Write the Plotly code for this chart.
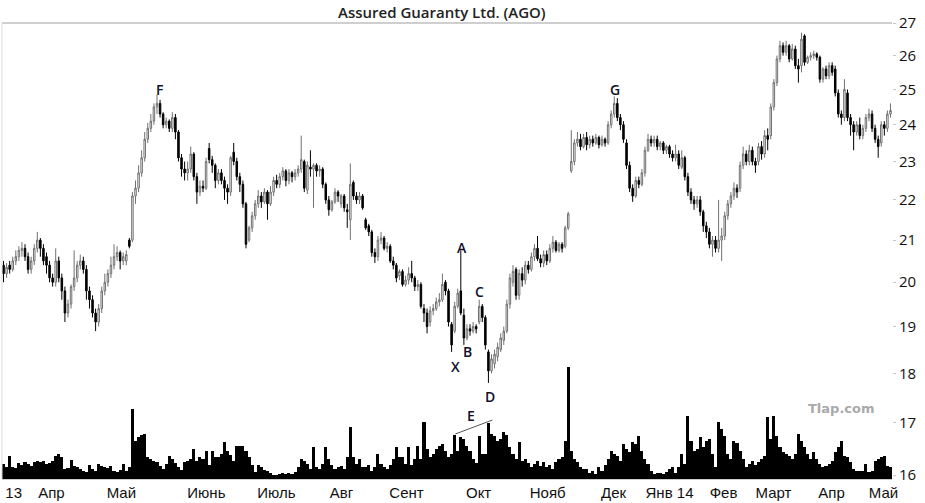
import math
import plotly.graph_objects as go

opens = [
 20.4, 20.2, 20.4, 20.3, 20.5, 20.6, 20.75, 20.8, 20.6, 20.3,
 20.5, 20.8, 21.0, 20.8, 20.6, 20.4, 20.1, 20.0, 20.5, 20.1,
 19.8, 19.3, 19.5, 19.9, 20.1, 20.4, 20.5, 20.3, 19.8, 19.6,
 19.3, 19.1, 19.4, 19.8, 20.0, 20.2, 20.4, 20.6, 20.7, 20.5,
 20.5, 21.0, 21.0, 22.1, 22.3, 22.7, 23.1, 23.6, 23.9, 24.1,
 24.5, 24.6, 24.3, 24.0, 24.1, 23.9, 24.2, 23.8, 23.1, 22.8,
 22.7, 22.8, 23.2, 22.6, 22.2, 22.35, 22.3, 23.35, 23.05, 22.9,
 22.5, 22.7, 22.5, 22.3, 22.2, 23.25, 23.0, 22.6, 22.4, 21.9,
 21.0, 21.3, 21.6, 21.9, 22.1, 21.95, 22.2, 21.9, 22.2, 22.5,
 22.4, 22.6, 22.75, 22.5, 22.7, 22.6, 22.7, 22.8, 23.0, 22.25,
 22.85, 22.8, 22.9, 22.75, 22.8, 22.4, 22.0, 21.75, 21.95, 22.2,
 21.9, 22.1, 21.75, 21.5, 22.45, 22.1, 22.0, 22.1, 21.5, 21.35,
 21.2, 20.7, 20.6, 21.0, 21.05, 20.8, 20.85, 20.5, 20.4, 20.15,
 20.25, 19.95, 20.05, 20.2, 20.1, 19.9, 19.95, 19.4, 19.3, 19.1,
 19.35, 19.4, 19.55, 19.6, 20.0, 19.8, 19.05, 18.9, 19.45, 19.8,
 19.25, 18.75, 18.95, 18.9, 19.0, 19.1, 19.45, 19.2, 18.45, 18.05,
 18.2, 18.35, 18.5, 18.7, 18.9, 19.5, 20.0, 20.3, 19.7, 20.2,
 20.05, 20.4, 20.3, 20.6, 20.8, 20.55, 20.45, 20.65, 20.5, 20.8,
 20.95, 20.75, 20.9, 20.85, 21.3, 22.75, 23.0, 23.5, 23.6, 23.4,
 23.65, 23.45, 23.6, 23.5, 23.65, 23.45, 23.6, 23.5, 24.0, 24.3,
 24.6, 24.2, 24.0, 23.5, 22.9, 22.3, 22.1, 22.5, 22.4, 22.7,
 23.3, 23.6, 23.5, 23.6, 23.4, 23.5, 23.3, 23.4, 23.2, 23.1,
 23.2, 22.85, 23.1, 22.6, 22.2, 22.0, 21.9, 22.0, 21.7, 21.35,
 21.2, 20.9, 21.0, 20.8, 21.0, 21.1, 21.6, 21.9, 22.1, 22.3,
 22.3, 22.9, 23.2, 23.0, 23.3, 23.0, 23.0, 23.4, 23.2, 23.7,
 23.7, 24.5, 25.2, 25.9, 26.3, 26.1, 26.3, 25.9, 26.2, 25.7,
 25.7, 26.6, 25.8, 25.95, 26.0, 26.05, 25.95, 25.3, 25.6, 25.4,
 25.7, 25.6, 24.9, 24.3, 24.2, 24.9, 24.2, 24.0, 23.8, 24.0,
 23.7, 23.9, 24.2, 24.3, 23.9, 23.6, 23.5, 24.0, 23.9, 24.3,
]
closes = [
 20.2, 20.35, 20.3, 20.5, 20.6, 20.75, 20.8, 20.6, 20.3, 20.5,
 20.8, 21.0, 20.8, 20.5, 20.4, 20.1, 20.0, 20.5, 20.1, 19.8,
 19.3, 19.5, 19.9, 20.1, 20.4, 20.5, 20.3, 19.8, 19.6, 19.3,
 19.1, 19.4, 19.8, 20.0, 20.2, 20.4, 20.6, 20.7, 20.5, 20.6,
 20.65, 20.85, 22.1, 22.3, 22.7, 23.1, 23.6, 23.9, 24.1, 24.5,
 24.6, 24.3, 24.0, 24.1, 23.9, 24.2, 23.8, 23.1, 22.8, 22.7,
 22.8, 23.2, 22.6, 22.2, 22.35, 22.3, 23.0, 23.05, 22.9, 22.5,
 22.7, 22.5, 22.3, 22.2, 23.1, 23.0, 22.6, 22.4, 21.9, 20.9,
 21.3, 21.6, 21.9, 22.1, 21.95, 22.2, 21.9, 22.2, 22.5, 22.4,
 22.6, 22.75, 22.5, 22.7, 22.6, 22.7, 22.8, 23.05, 22.3, 22.9,
 22.8, 22.9, 22.75, 22.8, 22.4, 22.0, 21.75, 21.95, 22.2, 22.1,
 22.1, 21.8, 21.7, 22.4, 22.1, 22.0, 22.1, 21.8, 21.3, 21.2,
 20.7, 20.6, 21.0, 21.05, 20.8, 20.85, 20.5, 20.4, 20.1, 20.25,
 19.95, 20.05, 20.2, 20.1, 19.9, 19.95, 19.45, 19.3, 19.0, 19.35,
 19.4, 19.55, 19.6, 19.95, 19.8, 19.1, 18.6, 19.45, 19.75, 19.3,
 18.75, 18.95, 18.9, 19.0, 18.95, 19.45, 19.2, 18.6, 18.05, 18.3,
 18.4, 18.55, 18.75, 18.9, 19.5, 20.1, 20.25, 19.7, 20.2, 20.05,
 20.4, 20.3, 20.6, 20.8, 20.55, 20.45, 20.65, 20.5, 20.8, 20.95,
 20.75, 20.9, 20.8, 21.3, 21.65, 23.0, 23.5, 23.6, 23.4, 23.65,
 23.45, 23.6, 23.5, 23.65, 23.45, 23.6, 23.5, 24.0, 24.3, 24.6,
 24.2, 24.0, 23.6, 22.9, 22.3, 22.1, 22.5, 22.4, 22.7, 23.3,
 23.6, 23.5, 23.6, 23.4, 23.5, 23.3, 23.4, 23.2, 23.1, 23.2,
 22.9, 23.1, 22.6, 22.2, 22.0, 21.9, 22.0, 21.7, 21.35, 21.2,
 20.9, 21.0, 20.8, 21.0, 21.1, 21.6, 21.9, 22.1, 22.3, 22.2,
 22.9, 23.2, 23.0, 23.3, 23.0, 22.9, 23.4, 23.2, 23.7, 23.6,
 24.5, 25.2, 25.9, 26.3, 26.1, 26.3, 25.9, 26.2, 25.7, 25.6,
 26.5, 25.8, 25.95, 26.0, 26.05, 25.95, 25.3, 25.6, 25.4, 25.7,
 25.5, 24.9, 24.3, 24.2, 25.0, 24.2, 24.0, 23.8, 24.0, 23.7,
 23.9, 24.2, 24.3, 23.9, 23.6, 23.4, 24.0, 23.9, 24.3, 24.4,
]
highs = [
 20.5, 20.45, 20.5, 20.6, 20.75, 20.85, 20.95, 20.9, 20.7, 20.6,
 20.9, 21.2, 21.05, 20.9, 20.7, 20.5, 20.2, 20.8, 20.6, 20.2,
 19.9, 19.6, 19.95, 20.75, 20.5, 20.65, 20.6, 20.4, 19.9, 19.7,
 19.4, 19.5, 19.9, 20.2, 20.3, 20.6, 20.9, 20.85, 20.75, 20.7,
 20.75, 21.05, 22.2, 22.5, 22.9, 23.3, 23.8, 24.05, 24.3, 24.6,
 24.85, 24.7, 24.35, 24.2, 24.15, 24.35, 24.3, 23.85, 23.2, 23.0,
 23.0, 23.4, 23.25, 22.7, 22.5, 22.5, 23.1, 23.5, 23.15, 22.95,
 22.8, 22.8, 22.6, 22.4, 23.15, 23.5, 23.1, 22.7, 22.5, 21.95,
 21.35, 21.7, 22.0, 22.25, 22.2, 22.3, 22.25, 22.35, 22.6, 22.65,
 22.7, 22.85, 22.8, 22.8, 22.75, 22.8, 22.9, 23.7, 23.05, 23.0,
 23.3, 22.95, 22.95, 22.9, 22.85, 22.45, 22.1, 22.0, 22.3, 22.25,
 22.15, 22.15, 21.9, 22.95, 22.5, 22.2, 22.2, 22.15, 21.55, 21.4,
 21.25, 20.8, 21.1, 21.2, 21.1, 20.95, 20.9, 20.6, 20.45, 20.3,
 20.3, 20.15, 20.35, 20.5, 20.15, 20.05, 20.0, 19.5, 19.4, 19.45,
 19.5, 19.65, 19.75, 20.2, 20.05, 19.85, 19.1, 19.55, 19.85, 20.75,
 19.4, 19.05, 19.05, 19.1, 19.05, 19.6, 19.5, 19.25, 18.5, 18.4,
 18.5, 18.65, 18.85, 19.0, 19.6, 20.2, 20.4, 20.35, 20.3, 20.35,
 20.5, 20.5, 20.7, 20.9, 21.1, 20.65, 20.75, 20.75, 20.9, 21.1,
 21.0, 20.95, 20.95, 21.35, 21.7, 23.85, 23.6, 23.8, 23.75, 23.75,
 23.8, 23.7, 23.7, 23.75, 23.7, 23.7, 23.65, 24.1, 24.4, 24.8,
 24.75, 24.3, 24.1, 23.6, 23.0, 22.4, 22.6, 22.6, 22.8, 23.4,
 23.75, 23.7, 23.7, 23.7, 23.55, 23.55, 23.45, 23.45, 23.3, 23.45,
 23.3, 23.3, 23.15, 22.7, 22.3, 22.1, 22.1, 22.1, 21.75, 21.45,
 21.3, 21.1, 21.1, 22.0, 21.3, 21.7, 22.0, 22.2, 22.45, 22.4,
 23.0, 23.4, 23.3, 23.45, 23.4, 23.1, 23.5, 23.55, 23.85, 23.9,
 24.6, 25.3, 26.0, 26.45, 26.4, 26.45, 26.35, 26.35, 26.3, 25.9,
 26.7, 26.65, 26.0, 26.1, 26.15, 26.1, 26.0, 25.65, 25.7, 25.8,
 25.8, 25.7, 25.0, 24.4, 25.3, 25.0, 24.3, 24.1, 24.1, 24.2,
 24.0, 24.3, 24.45, 24.4, 24.0, 23.7, 24.1, 24.1, 24.4, 24.6,
]
lows = [
 20.0, 20.1, 20.2, 20.25, 20.4, 20.5, 20.6, 20.5, 20.2, 20.2,
 20.4, 20.7, 20.6, 20.4, 20.2, 20.0, 19.9, 19.9, 20.0, 19.6,
 19.1, 19.2, 19.4, 19.8, 20.0, 20.3, 20.2, 19.6, 19.4, 19.2,
 18.9, 19.0, 19.3, 19.7, 19.9, 20.1, 20.3, 20.5, 20.3, 20.4,
 20.4, 20.8, 20.95, 21.9, 22.2, 22.6, 23.0, 23.5, 23.8, 24.0,
 24.3, 24.2, 23.9, 23.9, 23.8, 23.8, 23.6, 23.0, 22.6, 22.5,
 22.5, 22.7, 22.5, 21.9, 22.1, 22.2, 22.25, 22.95, 22.7, 22.3,
 22.4, 22.4, 22.0, 21.9, 22.1, 22.9, 22.5, 22.2, 21.8, 20.8,
 20.95, 21.2, 21.5, 21.8, 21.8, 21.9, 21.5, 21.85, 22.1, 22.3,
 22.3, 22.5, 22.35, 22.4, 22.45, 22.5, 22.6, 22.7, 22.2, 22.15,
 22.6, 21.8, 22.6, 22.6, 22.3, 21.9, 21.6, 21.7, 21.9, 21.95,
 21.8, 21.7, 21.3, 21.0, 22.0, 21.9, 21.9, 21.75, 21.25, 21.1,
 20.6, 20.45, 20.5, 20.9, 20.75, 20.7, 20.45, 20.3, 20.0, 20.05,
 19.9, 19.9, 19.95, 20.0, 19.8, 19.8, 19.4, 19.1, 18.85, 19.0,
 19.25, 19.35, 19.45, 19.55, 19.7, 19.0, 18.45, 18.85, 19.4, 19.25,
 18.6, 18.7, 18.8, 18.85, 18.85, 19.05, 19.1, 18.5, 17.8, 18.0,
 18.1, 18.25, 18.45, 18.6, 18.85, 19.4, 19.9, 19.6, 19.6, 19.9,
 19.95, 20.2, 20.25, 20.5, 20.5, 20.35, 20.35, 20.4, 20.45, 20.7,
 20.7, 20.7, 20.7, 20.8, 21.25, 22.7, 22.9, 23.4, 23.3, 23.35,
 23.3, 23.35, 23.4, 23.45, 23.35, 23.4, 23.4, 23.45, 23.9, 24.2,
 24.1, 23.85, 23.5, 22.8, 22.2, 21.95, 22.05, 22.3, 22.35, 22.6,
 23.25, 23.4, 23.4, 23.3, 23.3, 23.2, 23.2, 23.1, 23.0, 23.0,
 22.8, 22.8, 22.5, 22.1, 21.9, 21.75, 21.8, 21.6, 21.2, 21.05,
 20.8, 20.6, 20.7, 20.7, 20.5, 21.0, 21.5, 21.8, 22.0, 22.05,
 22.2, 22.8, 22.9, 22.9, 22.9, 22.7, 22.9, 23.05, 23.1, 23.3,
 23.6, 24.4, 25.1, 25.8, 26.0, 26.0, 25.8, 25.85, 25.6, 25.2,
 25.5, 25.7, 25.75, 25.85, 25.9, 25.85, 25.2, 25.2, 25.3, 25.3,
 25.4, 24.8, 24.2, 24.0, 24.1, 24.1, 23.7, 23.3, 23.7, 23.6,
 23.6, 23.8, 24.1, 23.8, 23.5, 23.1, 23.4, 23.7, 23.8, 24.2,
]
volumes = [
 1.5, 1.2, 2.3, 1.2, 1.1, 1.6, 1.4, 1.7, 1.5, 1.3,
 1.7, 1.8, 1.7, 1.8, 1.5, 1.6, 1.8, 2.3, 2.5, 2.2,
 1.0, 1.1, 1.9, 1.3, 1.2, 1.0, 0.8, 0.7, 1.4, 1.0,
 0.8, 1.5, 1.3, 1.2, 1.1, 1.3, 0.8, 0.7, 0.9, 1.5,
 0.8, 1.2, 7.0, 3.8, 4.2, 4.4, 4.5, 2.2, 2.0, 1.8,
 1.7, 1.3, 1.0, 1.5, 2.3, 2.0, 1.6, 1.2, 0.9, 1.7,
 1.8, 2.0, 3.0, 1.8, 2.2, 2.0, 2.8, 1.4, 2.8, 2.2,
 2.2, 2.5, 3.7, 2.8, 2.4, 1.8, 3.3, 3.3, 3.3, 2.8,
 2.2, 1.4, 0.7, 1.4, 1.2, 0.9, 0.8, 0.6, 0.4, 0.4,
 0.5, 0.6, 0.5, 0.6, 0.5, 0.7, 1.2, 2.0, 1.8, 1.5,
 1.0, 3.2, 1.2, 1.0, 1.5, 3.2, 2.0, 1.4, 1.0, 1.2,
 1.3, 1.0, 2.2, 5.2, 2.2, 1.5, 2.0, 1.2, 1.2, 1.4,
 0.8, 1.2, 2.5, 1.5, 1.2, 1.0, 1.4, 2.0, 3.2, 2.2,
 2.2, 1.5, 3.2, 1.4, 2.0, 3.3, 2.0, 5.7, 3.0, 2.2,
 2.5, 3.0, 3.3, 3.5, 2.8, 2.2, 2.5, 4.4, 2.8, 4.2,
 4.0, 3.3, 2.8, 2.0, 1.6, 4.3, 2.5, 2.5, 5.6, 4.5,
 4.3, 3.8, 4.0, 4.7, 4.4, 3.2, 2.5, 2.0, 3.7, 1.8,
 2.0, 1.6, 1.2, 1.5, 1.8, 1.3, 1.7, 1.2, 1.4, 1.0,
 1.7, 2.0, 2.2, 3.8, 11.2, 2.8, 2.0, 1.7, 1.2, 1.0,
 1.0, 0.6, 0.8, 0.5, 1.2, 0.8, 1.4, 2.0, 2.8, 2.5,
 2.3, 1.8, 3.5, 3.0, 2.7, 3.7, 3.5, 4.3, 2.8, 2.0,
 1.5, 0.8, 0.5, 0.6, 0.6, 0.5, 0.7, 1.0, 1.2, 0.6,
 1.2, 2.5, 1.5, 6.3, 3.8, 2.8, 3.0, 4.2, 3.2, 3.8,
 4.0, 2.5, 1.2, 5.7, 5.0, 4.3, 2.5, 2.0, 3.8, 3.6,
 2.8, 2.0, 1.2, 1.5, 1.8, 1.4, 1.7, 2.0, 2.3, 6.2,
 4.0, 6.3, 4.3, 3.2, 2.7, 2.5, 2.3, 2.0, 2.5, 4.5,
 3.8, 3.2, 2.5, 2.0, 2.7, 2.0, 1.5, 1.2, 1.3, 1.5,
 1.8, 2.7, 3.2, 3.8, 2.3, 2.2, 1.7, 1.0, 0.8, 0.8,
 0.8, 1.5, 0.7, 0.8, 1.8, 2.0, 2.2, 2.3, 1.3, 1.2,
]

month_labels = ["13", "Апр", "Май", "Июнь", "Июль", "Авг", "Сент", "Окт",
                "Нояб", "Дек", "Янв 14", "Фев", "Март", "Апр", "Май"]
month_pos = [3.3, 15.6, 38.4, 66.1, 88.9, 110.1, 131.3, 154.8,
             177.3, 198.8, 217.0, 234.6, 250.9, 269.8, 286.7]
price_ticks = [16, 17, 18, 19, 20, 21, 22, 23, 24, 25, 26, 27]

pattern_labels = ["F", "G", "A", "B", "C", "X", "D"]
pattern_x = [50.8, 199.2, 149.5, 151.2, 155.1, 147.2, 158.6]
pattern_y = [25.0, 25.0, 20.83, 18.45, 19.79, 18.15, 17.53]

idx = list(range(len(closes)))

fig = go.Figure()
fig.add_trace(go.Bar(
    x=idx, y=volumes, yaxis="y2",
    marker=dict(color="black", line=dict(width=0)),
    hoverinfo="skip", showlegend=False,
))
fig.add_trace(go.Candlestick(
    x=idx, open=opens, high=highs, low=lows, close=closes,
    increasing=dict(line=dict(color="#707070", width=1), fillcolor="white"),
    decreasing=dict(line=dict(color="black", width=1), fillcolor="black"),
    whiskerwidth=0, showlegend=False,
))

label_font = dict(family="Open Sans", size=14, color="#10102a", weight=600)
annotations = []
for t, xv, yv in zip(pattern_labels, pattern_x, pattern_y):
    annotations.append(dict(
        x=xv, y=math.log10(yv), xref="x", yref="y", text=t, showarrow=False,
        font=label_font,
    ))
annotations.append(dict(
    x=152.3, y=6.4, xref="x", yref="y2", text="E", showarrow=False,
    font=label_font,
))
annotations.append(dict(
    x=273.0, y=math.log10(17.29), xref="x", yref="y", text="Tlap.com", showarrow=False,
    font=dict(family="DejaVu Sans", size=13, color="#a9a9a9", weight="bold"),
))
annotations.append(dict(
    x=0.494, y=1.0, xref="paper", yref="paper", yanchor="middle", yshift=11,
    text="Assured Guaranty Ltd. (AGO)", showarrow=False,
    font=dict(family="Open Sans", size=15, color="#222222", weight=600),
))

shapes = [
    dict(type="line", xref="paper", yref="paper", x0=0, x1=1, y0=1, y1=1,
         line=dict(color="#cfcfcf", width=2)),
    dict(type="line", xref="paper", yref="paper", x0=0, x1=0, y0=0, y1=1,
         line=dict(color="#dcdcdc", width=1)),
    dict(type="line", xref="x", yref="y2", x0=147.2, x1=159.3, y0=4.5, y1=5.9,
         line=dict(color="#555555", width=1)),
]

fig.update_layout(
    width=925, height=503,
    margin=dict(l=2, r=33, t=23, b=24),
    paper_bgcolor="white", plot_bgcolor="white",
    bargap=0,
    showlegend=False,
    annotations=annotations,
    shapes=shapes,
    xaxis=dict(
        range=[-0.5, len(closes) - 0.5],
        tickvals=month_pos, ticktext=month_labels,
        tickfont=dict(family="Liberation Sans", size=15, color="#111111"),
        ticks="", showgrid=False, zeroline=False,
        showline=True, linecolor="#cccccc", linewidth=1,
        rangeslider=dict(visible=False),
    ),
    yaxis=dict(
        type="log", side="right",
        range=[math.log10(15.926), math.log10(27.0)],
        tickvals=price_ticks, ticktext=[str(v) for v in price_ticks],
        tickfont=dict(family="Open Sans", size=15, color="#111111"),
        ticks="outside", ticklen=3, tickcolor="#c8c8c8",
        showgrid=False, zeroline=False, showline=False,
    ),
    yaxis2=dict(
        overlaying="y", range=[0, 45.6], visible=False,
        showgrid=False, zeroline=False,
    ),
)

fig.write_html("out.html")
